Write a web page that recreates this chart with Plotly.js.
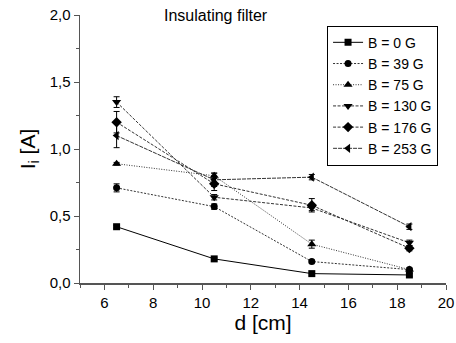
<!DOCTYPE html>
<html><head><meta charset="utf-8">
<script src="https://cdn.plot.ly/plotly-3.0.1.min.js"></script>
<style>html,body{margin:0;padding:0;background:#fff}#c{width:456px;height:343px}</style>
</head><body><div id="c"></div>
<script>
const d = [6.5, 10.5, 14.5, 18.5];
const names = ['B = 0 G','B = 39 G','B = 75 G','B = 130 G','B = 176 G','B = 253 G'];
const b0 = [0.42, 0.18, 0.07, 0.06];
const b39 = [0.71, 0.57, 0.16, 0.10];
const b75 = [0.89, 0.80, 0.29, 0.10];
const b130 = [1.35, 0.64, 0.56, 0.30];
const b176 = [1.20, 0.74, 0.58, 0.26];
const b253 = [1.10, 0.77, 0.79, 0.42];
const e0 = [0.01, 0.01, 0.01, 0.01];
const e39 = [0.03, 0.02, 0.01, 0.01];
const e75 = [0.01, 0.02, 0.03, 0.01];
const e130 = [0.04, 0.02, 0.02, 0.02];
const e176 = [0.08, 0.05, 0.05, 0.02];
const e253 = [0.09, 0.05, 0.02, 0.02];
const series = [b0,b39,b75,b130,b176,b253];
const errs = [e0,e39,e75,e130,e176,e253];
const symbols = ['square','circle','triangle-up','triangle-down','diamond','triangle-left'];
const msizes = [7, 7, 8, 8, 8, 8];
const dashes = ['solid','2px,1.5px','1px,1.5px','3px,1.5px','3px,1.5px','4px,1px'];
const traces = series.map((s,i)=>({
  x: d, y: s, name: names[i], type:'scatter', mode:'lines+markers',
  line:{color: i===0 ? '#000' : '#333', width:1, dash:dashes[i]},
  marker:{symbol:symbols[i], size: msizes[i], color:'#000'},
  error_y:{type:'data', array:errs[i], visible:true, color:'#000', thickness:1, width:3}
}));
const layout = {
  width:456, height:343,
  margin:{l:80, r:10, t:15, b:60},
  separators:',.',
  font:{family:'Liberation Sans, Arial, sans-serif', color:'#000', size:14},
  paper_bgcolor:'#fff', plot_bgcolor:'#fff',
  showlegend:true,
  legend:{x:0.675, y:0.96, xanchor:'left', yanchor:'top', bordercolor:'#000', borderwidth:1,
    font:{size:14}, bgcolor:'#fff', tracegroupgap:0, itemwidth:30},
  xaxis:{range:[5,20], dtick:2, tick0:0, showgrid:false, zeroline:false,
    showline:true, linecolor:'#555', linewidth:1.5, ticks:'outside', ticklen:5, tickcolor:'#555',
    minor:{dtick:1, ticks:'outside', ticklen:3, tickcolor:'#555', showgrid:false},
    tickfont:{size:15}, title:{text:'d [cm]', font:{size:21}, standoff:6}},
  yaxis:{range:[0,2], dtick:0.5, tickformat:'.1f', showgrid:false, zeroline:false,
    showline:true, linecolor:'#555', linewidth:1.5, ticks:'outside', ticklen:5, tickcolor:'#555',
    minor:{dtick:0.25, ticks:'outside', ticklen:3, tickcolor:'#555', showgrid:false},
    tickfont:{size:15}, title:{text:'I<sub>i</sub> [A]', font:{size:21}, standoff:8}},
  annotations:[{text:'Insulating filter', xref:'paper', yref:'paper', x:(162-80)/366, y:1.0,
    xanchor:'left', yanchor:'middle', showarrow:false, font:{size:16}}]
};
Plotly.newPlot('c', traces, layout, {displayModeBar:false, staticPlot:true});
</script></body></html>
